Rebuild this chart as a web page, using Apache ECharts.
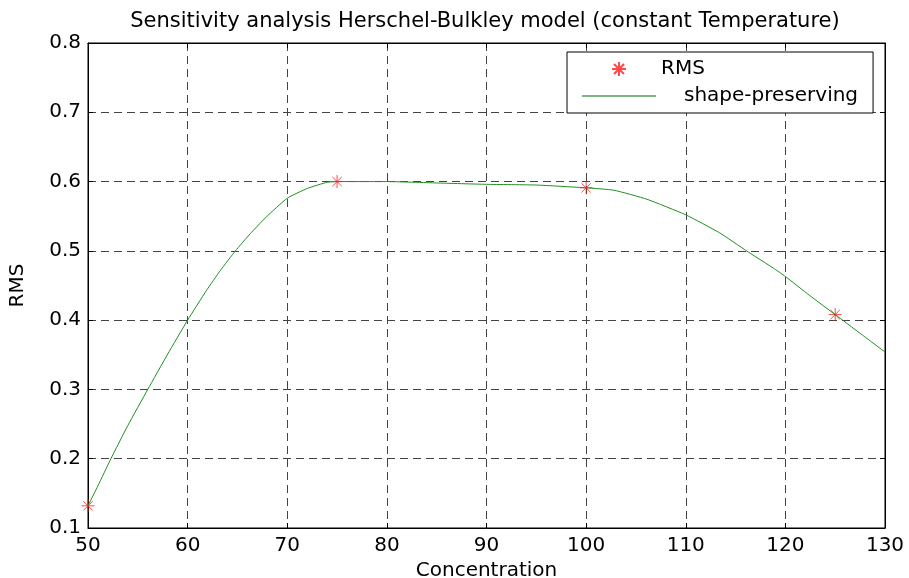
<!DOCTYPE html>
<html>
<head>
<meta charset="utf-8">
<script src="https://cdn.jsdelivr.net/npm/echarts@6/dist/echarts.min.js"></script>
<style>
  html, body { margin: 0; padding: 0; background: #fff; }
  #chart { width: 909px; height: 578px; }
</style>
</head>
<body>
<div id="chart"></div>
<script>
// measured RMS points
const rmsX = [50, 75, 100, 125];
const rmsY = [0.132, 0.6, 0.591, 0.408];

// shape-preserving curve
const fitX = [50, 51, 52.3, 54, 56, 58, 60, 61.9, 63.3, 64.8, 66.3, 67.9, 70, 72, 74, 75,
  80, 85, 90, 95, 100, 102.8, 106.1, 110, 113.4, 116.1, 118.8, 120, 122.4, 125, 127.5, 130];
const fitY = [0.132, 0.161, 0.2, 0.248, 0.3, 0.351, 0.4, 0.443, 0.472, 0.5, 0.525, 0.549, 0.576, 0.59, 0.599, 0.6,
  0.6, 0.598, 0.596, 0.595, 0.591, 0.5875, 0.5745, 0.552, 0.526, 0.5, 0.475, 0.463, 0.436, 0.408, 0.381, 0.354];

const xMin = 50, xMax = 130, xStep = 10;
const yMin = 0.1, yMax = 0.8, yStep = 0.1;

(function () {
  const font = 'DejaVu Sans';
  const asterisk = 'path://M0,-6L0,6M-6,0L6,0M-4.3,-4.3L4.3,4.3M-4.3,4.3L4.3,-4.3';

  const gridLine = { show: true, lineStyle: { color: '#444', type: [8, 5], width: 1 } };
  const inTicks = { show: true, inside: true, length: 5, lineStyle: { color: '#000' } };
  const axisLine = { show: true, onZero: false, lineStyle: { color: '#000', width: 1 } };

  const option = {
    backgroundColor: '#fff',
    animation: false,
    title: {
      text: 'Sensitivity analysis Herschel-Bulkley model (constant Temperature)',
      left: 480,
      top: 6,
      textAlign: 'center',
      textStyle: { fontFamily: font, fontSize: 21, fontWeight: 'normal', color: '#000' }
    },
    grid: {
      left: 88, right: 24, top: 43, bottom: 50,
      outerBoundsMode: 'none',
      show: true, borderColor: '#000', borderWidth: 1
    },
    legend: {
      orient: 'vertical',
      left: 567,
      top: 52,
      padding: [7, 15, 7, 15],
      itemWidth: 74,
      itemHeight: 14,
      itemGap: 7,
      backgroundColor: '#fff',
      borderColor: '#000',
      borderWidth: 1,
      borderRadius: 0,
      data: [
        { name: 'RMS' },
        { name: 'shape-preserving', icon: 'path://M0,0L74,0L74,1L0,1Z', itemStyle: { color: '#007000' } }
      ],
      formatter: n => (n === 'shape-preserving' ? '{p|}' + n : n),
      textStyle: {
        fontFamily: font, fontSize: 20, color: '#000',
        rich: { p: { width: 23 } }
      }
    },
    xAxis: [{
      type: 'value',
      min: xMin, max: xMax, interval: xStep,
      name: 'Concentration',
      nameLocation: 'middle',
      nameGap: 26,
      nameTextStyle: { fontFamily: font, fontSize: 20, color: '#000' },
      axisLine: axisLine,
      axisTick: inTicks,
      splitLine: gridLine,
      axisLabel: { fontFamily: font, fontSize: 20, color: '#000', margin: 8 }
    }, {
      type: 'value', position: 'top',
      min: xMin, max: xMax, interval: xStep,
      axisLine: axisLine, axisTick: inTicks, axisLabel: { show: false }, splitLine: { show: false }
    }],
    yAxis: [{
      type: 'value',
      min: yMin, max: yMax, interval: yStep,
      name: 'RMS',
      nameLocation: 'middle',
      nameGap: 60,
      nameTextStyle: { fontFamily: font, fontSize: 20, color: '#000' },
      axisLine: axisLine,
      axisTick: inTicks,
      splitLine: gridLine,
      axisLabel: { fontFamily: font, fontSize: 20, color: '#000', margin: 7, formatter: v => v.toFixed(1) }
    }, {
      type: 'value', position: 'right',
      min: yMin, max: yMax, interval: yStep,
      axisLine: axisLine, axisTick: inTicks, axisLabel: { show: false }, splitLine: { show: false }
    }],
    series: [{
      name: 'RMS',
      type: 'scatter',
      clip: false,
      symbol: asterisk,
      symbolSize: 13,
      itemStyle: { color: 'rgba(0,0,0,0)', borderColor: '#ff1a1a', borderWidth: 1 },
      data: rmsX.map((x, i) => [x, rmsY[i]]),
      z: 3
    }, {
      name: 'shape-preserving',
      type: 'line',
      symbol: 'none',
      smooth: 0.15,
      lineStyle: { color: '#1f8f1f', width: 1 },
      itemStyle: { color: '#007000' },
      data: fitX.map((x, i) => [x, fitY[i]]),
      z: 4
    }]
  };

  const chart = echarts.init(document.getElementById('chart'));
  chart.setOption(option);
})();
</script>
</body>
</html>
